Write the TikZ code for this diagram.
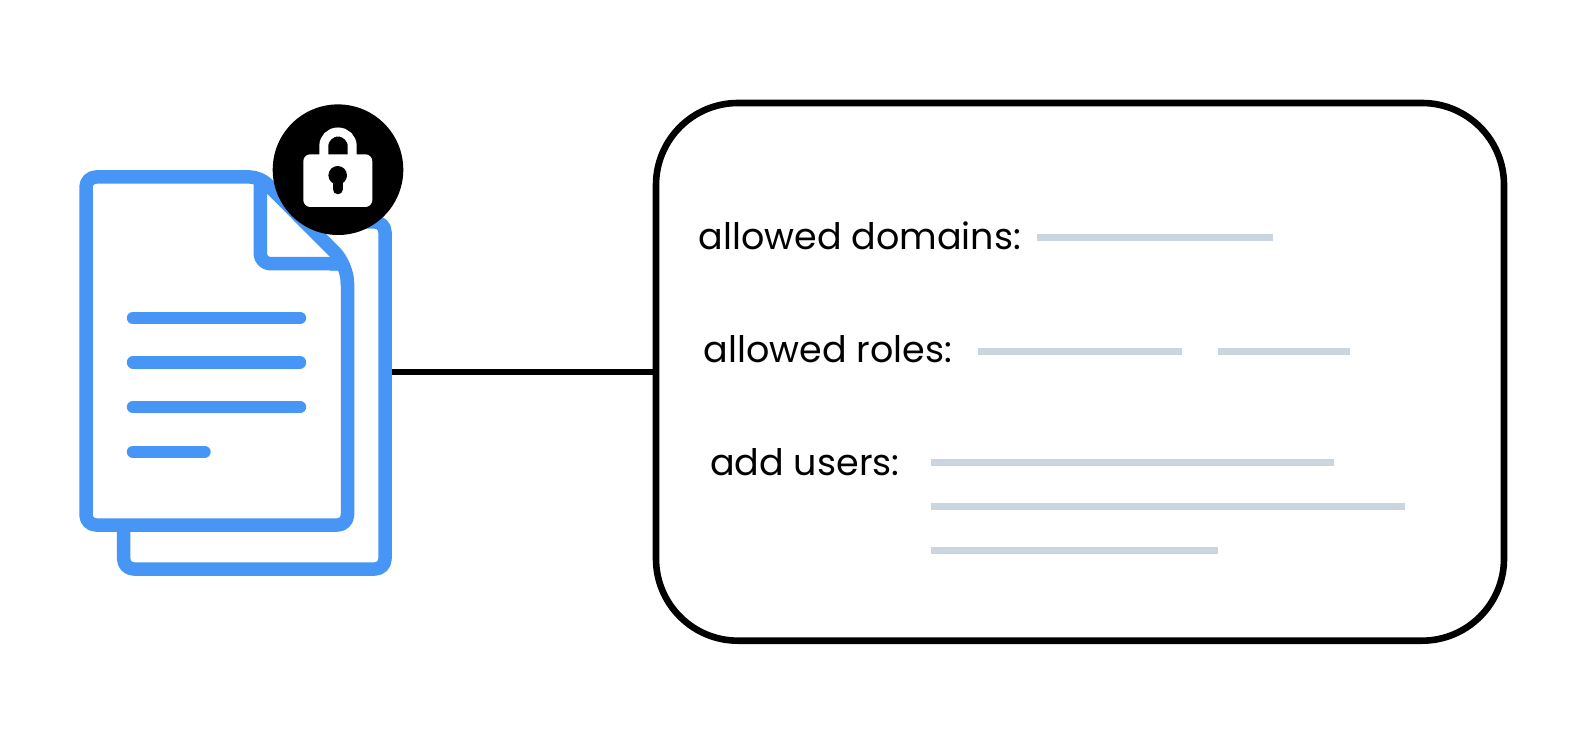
\documentclass[tikz,border=0pt]{standalone}
\usepackage{fontspec}
\setmainfont{Poppins}
\usetikzlibrary{positioning}
\definecolor{docblue}{RGB}{71,150,245}
\definecolor{fieldgray}{RGB}{203,213,223}
\begin{document}
\begin{tikzpicture}[x=1pt, y=-1pt,
    docline/.style={draw=docblue, line width=13.5pt, line join=round},
    textline/.style={draw=docblue, line width=12.4pt, line cap=round},
    fieldline/.style={draw=fieldgray, line width=7pt},
    fieldlabel/.style={anchor=base west, inner sep=0pt, font=\fontsize{36.5}{40}\selectfont},
    panelbox/.style={rectangle, draw=black, line width=6.6pt, rounded corners=82pt, inner sep=0pt, minimum width=848pt, minimum height=537.7pt}]
    \useasboundingbox (0,0) rectangle (1588,754);

    % back page
    \draw[docline, rounded corners=10pt] (340,222) -- (385,222) -- (385,569) -- (123.7,569) -- (123.7,520);
    \fill[white] (92.7,184) rectangle (340.7,517.7);
    % front page with folded corner
    \draw[docline, rounded corners=10pt] (86,177) -- (260,177) [rounded corners=18pt] -- (347.5,265) [rounded corners=10pt] -- (347.5,525) -- (86,525) -- cycle;
    \draw[docline, rounded corners=10pt] (260.3,177) -- (260.3,263.7) -- (345,263.7);
    \fill[docblue] (330,262) -- (345,262) -- (345,285) -- (340.7,285) -- (340.7,270.5) -- (330,270.5) -- cycle;
    \foreach \ypos/\xend in {318/300, 362.3/300, 407/300, 451.7/204.5}
        \draw[textline] (133,\ypos) -- (\xend,\ypos);

    % lock badge
    \node [circle, fill=black, minimum size=130.6pt, inner sep=0pt] (badge) at (338,169.7) {};
    \draw[white, line width=9pt, rounded corners=14pt] (323.8,158) -- (323.8,132) -- (352.2,132) -- (352.2,158);
    \fill[white, rounded corners=7pt] (303.3,154.3) rectangle (372.3,207);
    \fill[black] (337.7,175.3) circle (9.3pt);
    \draw[black, line width=10pt, line cap=round] (337.7,178) -- (337.7,189.3);

    % settings panel
    \node [panelbox] (panel) at (1080,371.85) {};
    \coordinate (docedge) at (391.7,371.85);
    \draw[line width=6.6pt] (docedge) -- (panel.west);

    \node [fieldlabel] (domains) at (698.3,249.3) {allowed domains:};
    \node [fieldlabel] (roles) at (703.3,362) {allowed roles:};
    \node [fieldlabel] (users) at (710,475) {add users:};

    \draw[fieldline] (1037,237.3) -- (1273.3,237.3);
    \draw[fieldline] (978.4,351.3) -- (1182,351.3);
    \draw[fieldline] (1218,351.3) -- (1350,351.3);
    \draw[fieldline] (931.3,462.7) -- (1334.3,462.7);
    \draw[fieldline] (931.3,506.7) -- (1405.3,506.7);
    \draw[fieldline] (931.3,550) -- (1217.7,550);
\end{tikzpicture}
\end{document}
